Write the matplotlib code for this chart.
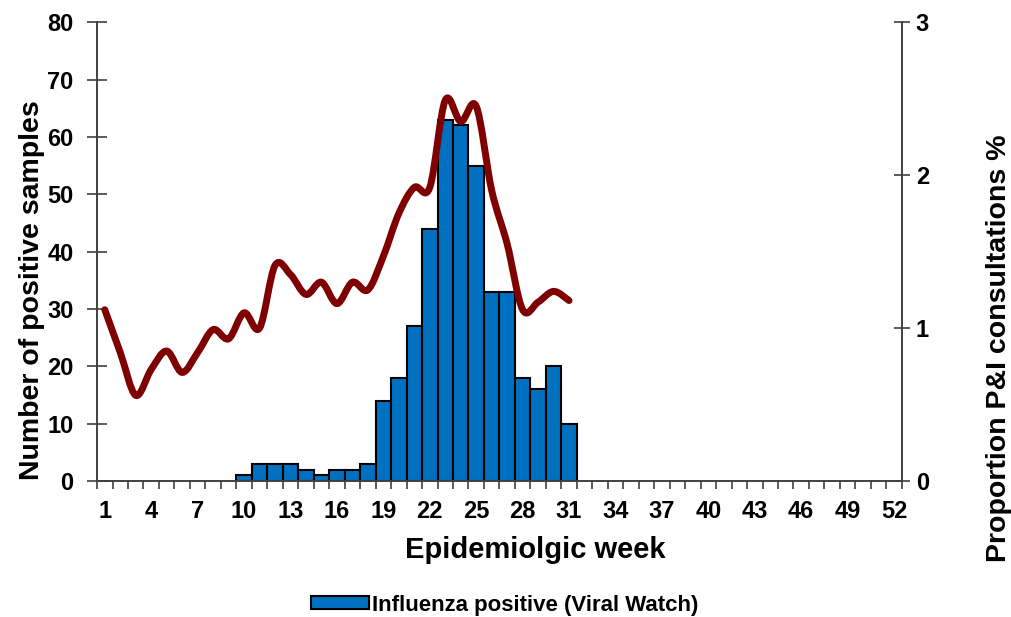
import numpy as np
import matplotlib
matplotlib.use("Agg")
import matplotlib.pyplot as plt
from matplotlib.path import Path
from matplotlib.patches import PathPatch, Patch

plt.rcParams['font.family'] = ['Liberation Sans', 'DejaVu Sans']

# weeks 1..52
weeks = np.arange(1, 53)

# influenza positive samples (weeks 10..31)
bar_weeks = np.arange(10, 32)
positives = [1, 3, 3, 3, 2, 1, 2, 2, 3, 14, 18, 27, 44, 63, 62, 55, 33, 33, 18, 16, 20, 10]

# proportion P&I consultations % (weeks 1..31)
pi_weeks = np.arange(1, 32)
pi_prop = [1.12, 0.84, 0.56, 0.73, 0.85, 0.71, 0.84, 0.99, 0.93, 1.10,
           1.00, 1.41, 1.35, 1.22, 1.30, 1.16, 1.30, 1.25, 1.47, 1.75,
           1.92, 1.92, 2.49, 2.35, 2.45, 1.90, 1.55, 1.12, 1.17, 1.24, 1.18]

xtick_labels = [str(w) for w in range(1, 53, 3)]

bar_color = '#0070C0'
line_color = '#7F0000'
axis_color = '#404040'


def smooth_path(xs, ys):
    """Catmull-Rom curve through the points, as cubic Bezier segments"""
    pts = np.column_stack([xs, ys]).astype(float)
    ext = np.vstack([pts[0], pts, pts[-1]])
    verts = [pts[0]]
    codes = [Path.MOVETO]
    for i in range(len(pts) - 1):
        p0, p1, p2, p3 = ext[i], ext[i + 1], ext[i + 2], ext[i + 3]
        c1 = p1 + (p2 - p0) / 6.0
        c2 = p2 - (p3 - p1) / 6.0
        verts += [c1, c2, p2]
        codes += [Path.CURVE4] * 3
    return Path(verts, codes)


fig = plt.figure(figsize=(10.11, 6.17), dpi=100)
ax = fig.add_axes([0.096, 0.2204, 0.796, 0.7436])
ax2 = ax.twinx()

ax.bar(bar_weeks, positives, width=1.0, color=bar_color,
       edgecolor='black', linewidth=1.5, zorder=2)

patch = PathPatch(smooth_path(pi_weeks, pi_prop), facecolor='none',
                  edgecolor=line_color, linewidth=5, capstyle='round',
                  joinstyle='round')
ax2.add_patch(patch)

ax.set_xlim(0.5, 52.5)
ax.set_ylim(0, 80)
ax2.set_ylim(0, 3)

ax.set_xticks(np.arange(1, 53, 3))
ax.set_xticklabels(xtick_labels)
ax.set_xticks(np.arange(0.5, 53, 1), minor=True)
ax.tick_params(axis='x', which='major', length=0, pad=14,
               labelsize=17)
ax.tick_params(axis='x', which='minor', length=6, direction='out',
               width=1.2, color=axis_color)

ax.set_yticks(np.arange(0, 81, 10))
ax.tick_params(axis='y', which='major', direction='inout', length=14,
               width=1.2, color=axis_color, labelsize=17, pad=10)
ax2.set_yticks([0, 1, 2, 3])
ax2.tick_params(axis='y', which='major', direction='inout', length=12,
                width=1.2, color=axis_color, labelsize=17, pad=4)

for a in (ax, ax2):
    for lab in a.get_xticklabels() + a.get_yticklabels():
        lab.set_fontweight('bold')
    a.spines['top'].set_visible(False)
    for s in ('left', 'right', 'bottom'):
        a.spines[s].set_color(axis_color)
        a.spines[s].set_linewidth(1.2)

ax.set_ylabel('Number of positive samples', fontsize=20.5, fontweight='bold')
ax.yaxis.set_label_coords(-0.065, 0.415)
ax2.set_ylabel('Proportion P&I consultations %', fontsize=20.5,
               fontweight='bold')
ax2.yaxis.set_label_coords(1.105, 0.29)
ax.set_xlabel('Epidemiolgic week', fontsize=21, fontweight='bold')
ax.xaxis.set_label_coords(0.545, -0.12)

handle = Patch(facecolor=bar_color, edgecolor='black', linewidth=1.5)
fig.legend([handle], ['Influenza positive (Viral Watch)'],
           loc='center', bbox_to_anchor=(0.4995, 0.0194), frameon=False,
           prop={'size': 16, 'weight': 'bold'}, handlelength=2.6,
           handleheight=0.55, handletextpad=0.15)

fig.savefig('out.png', dpi=100)
